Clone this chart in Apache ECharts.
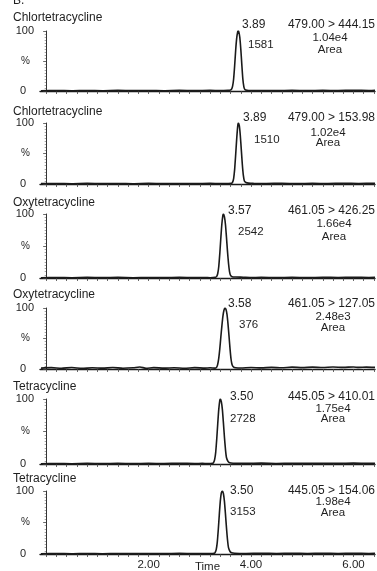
<!DOCTYPE html>
<html>
<head>
<meta charset="utf-8">
<script src="https://cdn.jsdelivr.net/npm/echarts@6/dist/echarts.min.js"></script>
<style>
html,body{margin:0;padding:0;background:#fff;}
#c{width:377px;height:571px;}
</style>
</head>
<body>
<div id="c"></div>
<script>
// ---- data ----
const titles = ['Chlortetracycline','Chlortetracycline','Oxytetracycline','Oxytetracycline','Tetracycline','Tetracycline'];
const rtLabels = ['3.89','3.89','3.57','3.58','3.50','3.50'];
const heightLabels = ['1581','1510','2542','376','2728','3153'];
const transitions = ['479.00 > 444.15','479.00 > 153.98','461.05 > 426.25','461.05 > 127.05','445.05 > 410.01','445.05 > 154.06'];
const areaLabels = ['1.04e4','1.02e4','1.66e4','2.48e3','1.75e4','1.98e4'];
const xTickLabels = [2, 4, 6];
const xTicks = [0,0.2,0.4,0.6,0.8,1.0,1.2,1.4,1.6,1.8,2.0,2.2,2.4,2.6,2.8,3.0,3.2,3.4,3.6,3.8,4.0,4.2,4.4,4.6,4.8,5.0,5.2,5.4,5.6,5.8,6.0,6.2,6.4];

const trace1 = [[-0.1,0.5],[0.2,0.8],[0.5,0.4],[0.8,0.9],[1.1,0.5],[1.4,1.0],[1.7,0.6],[2.0,0.9],[2.3,0.5],[2.6,1.0],[2.9,0.7],[3.2,1.1],[3.4,0.6],
  [3.55,1.0],[3.60,1.5],[3.62,3],[3.64,8],[3.66,20],[3.68,42],[3.70,68],[3.72,88],[3.74,99],[3.75,100],[3.76,99],[3.78,90],[3.80,70],[3.82,44],[3.84,20],[3.86,7],[3.88,2.5],[3.92,1.2],[4.00,0.8],
  [4.2,0.9],[4.5,0.6],[4.8,1.0],[5.1,0.7],[5.4,1.1],[5.7,0.8],[6.0,1.2],[6.3,0.9],[6.42,1.0]];
const trace2 = [[-0.1,0.6],[0.2,0.9],[0.5,0.5],[0.8,1.0],[1.1,0.6],[1.4,0.9],[1.7,0.5],[2.0,1.0],[2.3,0.6],[2.6,0.9],[2.9,0.6],[3.2,1.0],[3.4,0.7],
  [3.55,0.8],[3.62,1.2],[3.64,3],[3.66,9],[3.68,24],[3.70,48],[3.72,74],[3.74,95],[3.75,100],[3.77,96],[3.79,80],[3.81,56],[3.83,32],[3.85,14],[3.87,5],[3.90,2.5],[3.95,1.5],[4.05,1.0],
  [4.3,0.8],[4.6,1.1],[4.9,0.7],[5.2,1.0],[5.5,0.8],[5.8,1.2],[6.1,0.9],[6.42,1.1]];
const trace3 = [[-0.1,0.5],[0.2,0.8],[0.5,0.5],[0.8,0.9],[1.1,0.6],[1.4,0.9],[1.7,0.5],[2.0,0.8],[2.3,0.6],[2.6,0.9],[2.9,0.6],[3.1,0.8],
  [3.20,0.5],[3.30,1.0],[3.33,2.5],[3.35,7],[3.37,18],[3.39,38],[3.41,62],[3.43,84],[3.45,98],[3.46,100],[3.48,96],[3.50,84],[3.52,64],[3.54,42],[3.56,23],[3.58,10],[3.60,4],[3.63,2],[3.70,1.5],[3.85,1.2],[3.98,0.8],
  [4.2,0.9],[4.5,0.6],[4.8,1.0],[5.1,0.7],[5.4,1.0],[5.7,0.8],[6.0,1.1],[6.3,0.8],[6.42,1.0]];
const trace4 = [[-0.1,1.5],[0.1,2.2],[0.3,1.2],[0.5,2.5],[0.7,1.0],[0.9,2.0],[1.1,1.4],[1.3,2.4],[1.5,1.2],[1.7,2.0],[1.83,3.2],[1.95,1.3],[2.1,2.2],[2.3,1.4],[2.5,2.0],[2.7,1.2],[2.9,2.3],[3.1,1.5],[3.2,2.0],
  [3.30,1.5],[3.33,3],[3.35,8],[3.37,18],[3.39,33],[3.41,52],[3.43,70],[3.45,86],[3.47,96],[3.49,100],[3.51,98],[3.53,90],[3.55,74],[3.57,54],[3.59,33],[3.61,16],[3.63,7],[3.66,3],[3.70,2],
  [3.8,1.6],[4.0,2.4],[4.2,1.8],[4.4,2.6],[4.6,2.0],[4.8,3.0],[5.0,2.2],[5.2,3.0],[5.4,2.4],[5.6,3.2],[5.8,2.6],[6.0,3.4],[6.1,2.6],[6.25,3.0],[6.42,2.6]];
const trace5 = [[-0.1,0.5],[0.2,0.8],[0.5,0.5],[0.8,0.9],[1.1,0.6],[1.4,0.9],[1.7,0.6],[2.0,1.0],[2.3,0.7],[2.6,1.1],[2.9,0.7],[3.05,0.9],
  [3.15,0.6],[3.25,1.0],[3.27,2.5],[3.29,7],[3.31,18],[3.33,38],[3.35,62],[3.37,84],[3.39,98],[3.40,100],[3.42,96],[3.44,84],[3.46,64],[3.48,42],[3.50,23],[3.52,10],[3.55,4],[3.58,2],[3.65,1.2],
  [3.9,1.0],[4.2,1.3],[4.5,0.8],[4.8,1.2],[5.1,0.9],[5.4,1.2],[5.7,0.9],[6.0,1.3],[6.3,1.0],[6.42,1.2]];
const trace6 = [[-0.1,0.5],[0.2,0.8],[0.5,0.4],[0.8,0.9],[1.1,0.5],[1.4,0.9],[1.7,0.6],[2.0,0.9],[2.3,0.6],[2.6,1.0],[2.9,0.6],[3.1,0.9],
  [3.20,0.6],[3.28,1.0],[3.30,2.5],[3.32,7],[3.34,18],[3.36,38],[3.38,62],[3.40,84],[3.42,97],[3.44,100],[3.46,96],[3.48,84],[3.50,64],[3.52,42],[3.54,23],[3.56,10],[3.59,4],[3.62,2],[3.68,1.2],
  [3.9,0.9],[4.2,1.2],[4.5,0.8],[4.8,1.1],[5.1,0.8],[5.4,1.2],[5.7,0.9],[6.0,1.2],[6.3,0.9],[6.42,1.1]];
const traces = [trace1, trace2, trace3, trace4, trace5, trace6];
const xName = 'Time';

// ---- layout ----
const gridTops = [31, 123, 214, 308, 399, 491];
const gridBottoms = [91, 184, 278, 369, 464, 554];
const rtPos = [[242,25],[243,118],[228,211],[228,304],[230,397],[230,491]];
const hPos = [[248,45],[254,140],[238,232],[239,325],[230,419],[230,512]];
const transY = [25,118,211,304,397,491];
const areaPos = [[330,38,50],[328,133,143],[334,224,237],[333,317,328],[333,409,419],[333,502,513]];
const titleY = [18,112,203,295,387,479];

const FONT = '"Liberation Sans", Arial, sans-serif';
const TXT = '#1f1f1f';
const LINE = '#1a1a1a';

const grids = [], xAxes = [], yAxes = [], series = [], graphics = [];
function txt(text, x, y, size, align) {
  graphics.push({type:'text', x:x, y:y, silent:true,
    style:{text:text, font: size + 'px ' + FONT, fill:TXT, textAlign:align||'left', textVerticalAlign:'middle', align:align||'left', verticalAlign:'middle'}});
}
for (let i = 0; i < 6; i++) {
  const last = i === 5;
  grids.push({left:40, right:2, top:gridTops[i], height:gridBottoms[i]-gridTops[i], outerBoundsMode:'none', containLabel:false});
  xAxes.push({
    type:'value', gridIndex:i, min:-0.12, max:6.42,
    axisLine:{show:true, lineStyle:{color:LINE, width:1.4}},
    axisTick:{show:true, customValues:xTicks, length:3, lineStyle:{color:'#444', width:0.8}},
    axisLabel:{show:last, customValues:xTickLabels, margin:5, fontFamily:FONT, fontSize:11.5, color:TXT,
      formatter:function(v){return Number(v).toFixed(2);}},
    splitLine:{show:false},
    name: last ? xName : '', nameLocation:'middle', nameGap:7, nameMoveOverlap:false,
    nameTextStyle:{fontFamily:FONT, fontSize:11.5, color:TXT, verticalAlign:'top'}
  });
  yAxes.push({
    type:'value', gridIndex:i, min:0, max:100, interval:50,
    axisLine:{show:true, lineStyle:{color:'#333', width:1}},
    axisTick:{show:true, length:3, lineStyle:{color:'#444', width:0.8}},
    minorTick:{show:true, splitNumber:10, length:1.5, lineStyle:{color:'#666', width:0.6}},
    axisLabel:{show:true, margin:6, fontFamily:FONT, fontSize:11, color:TXT,
      formatter:function(v){ if (v===50) return '{p|%}'; if (v===0) return '{z|0}'; return '100'; },
      rich:{p:{fontFamily:FONT, fontSize:10, color:TXT, padding:[0,4,0,0]}, z:{fontFamily:FONT, fontSize:11, color:TXT, padding:[0,8,0,0]}}},
    splitLine:{show:false}
  });
  series.push({
    type:'line', xAxisIndex:i, yAxisIndex:i, data:traces[i], showSymbol:false, smooth:0.2,
    lineStyle:{color:LINE, width:1.6}, silent:true, animation:false
  });
  txt(titles[i], 13, titleY[i], 12, 'left');
  txt(rtLabels[i], rtPos[i][0], rtPos[i][1], 12, 'left');
  txt(heightLabels[i], hPos[i][0], hPos[i][1], 11.5, 'left');
  txt(transitions[i], 375, transY[i], 12, 'right');
  txt(areaLabels[i], areaPos[i][0], areaPos[i][1], 11.5, 'center');
  txt('Area', areaPos[i][0], areaPos[i][2], 11.5, 'center');
}
txt('B.', 13, 1, 12, 'left');

const chart = echarts.init(document.getElementById('c'), null, {renderer:'canvas'});
chart.setOption({
  animation:false,
  backgroundColor:'#fff',
  grid:grids, xAxis:xAxes, yAxis:yAxes, series:series,
  graphic:{elements:graphics}
});
</script>
</body>
</html>
